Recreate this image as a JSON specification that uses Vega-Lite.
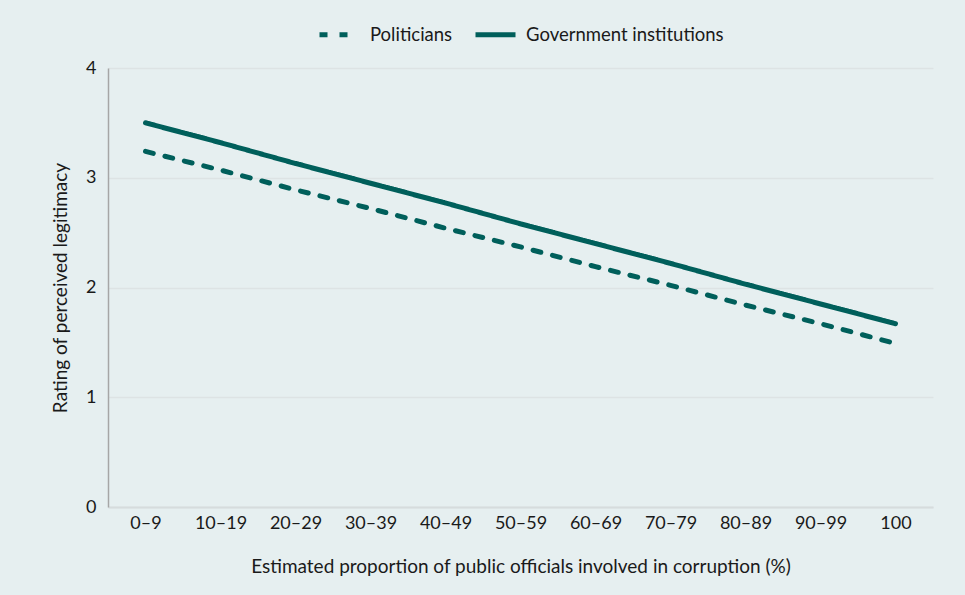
{
  "$schema": "https://vega.github.io/schema/vega-lite/v6.json",
  "width": 825,
  "height": 439,
  "autosize": {"type": "none"},
  "padding": {"left": 108, "top": 68, "right": 32, "bottom": 88},
  "background": "#e6eff0",
  "config": {
    "view": {"stroke": null},
    "font": "Lato",
    "axis": {"labelFont": "Lato", "titleFont": "Lato", "labelFontSize": 18, "titleFontSize": 19, "labelColor": "#1a1a1a", "titleColor": "#1a1a1a", "titleFontWeight": "normal", "ticks": false},
    "legend": {"labelFont": "Lato", "labelFontSize": 18.5, "labelColor": "#1a1a1a", "labelLimit": 400}
  },
  "data": {
    "values": [
      {"range": "0–9", "series": "Politicians", "value": 3.24},
      {"range": "10–19", "series": "Politicians", "value": 3.07},
      {"range": "20–29", "series": "Politicians", "value": 2.89},
      {"range": "30–39", "series": "Politicians", "value": 2.72},
      {"range": "40–49", "series": "Politicians", "value": 2.54},
      {"range": "50–59", "series": "Politicians", "value": 2.37},
      {"range": "60–69", "series": "Politicians", "value": 2.19},
      {"range": "70–79", "series": "Politicians", "value": 2.02},
      {"range": "80–89", "series": "Politicians", "value": 1.84},
      {"range": "90–99", "series": "Politicians", "value": 1.67},
      {"range": "100", "series": "Politicians", "value": 1.49},
      {"range": "0–9", "series": "Government institutions", "value": 3.50},
      {"range": "10–19", "series": "Government institutions", "value": 3.32},
      {"range": "20–29", "series": "Government institutions", "value": 3.13},
      {"range": "30–39", "series": "Government institutions", "value": 2.95},
      {"range": "40–49", "series": "Government institutions", "value": 2.77},
      {"range": "50–59", "series": "Government institutions", "value": 2.58},
      {"range": "60–69", "series": "Government institutions", "value": 2.40},
      {"range": "70–79", "series": "Government institutions", "value": 2.22},
      {"range": "80–89", "series": "Government institutions", "value": 2.03},
      {"range": "90–99", "series": "Government institutions", "value": 1.85},
      {"range": "100", "series": "Government institutions", "value": 1.67}
    ]
  },
  "mark": {"type": "line", "strokeWidth": 5, "strokeCap": "round", "color": "#005f5b"},
  "encoding": {
    "x": {
      "field": "range", "type": "ordinal", "sort": null,
      "scale": {"type": "point", "padding": 0.5},
      "axis": {"title": "Estimated proportion of public officials involved in corruption (%)", "labelAngle": 0, "labelPadding": 7, "titlePadding": 25, "domainColor": "#d6dcdd", "domainWidth": 2, "grid": false}
    },
    "y": {
      "field": "value", "type": "quantitative",
      "scale": {"domain": [0, 4]},
      "axis": {"title": "Rating of perceived legitimacy", "values": [0, 1, 2, 3, 4], "labelOverlap": false, "labelPadding": 12, "titlePadding": 15, "domainColor": "#a6a6a6", "domainWidth": 1.5, "gridColor": "#dde3e4", "gridWidth": 1.5}
    },
    "strokeDash": {
      "field": "series", "type": "nominal",
      "scale": {"domain": ["Politicians", "Government institutions"], "range": [[8, 12], [1, 0]]},
      "legend": {"title": null, "orient": "none", "legendX": 209, "legendY": -56, "direction": "horizontal", "symbolType": "stroke", "symbolSize": 1600, "symbolStrokeWidth": 5, "symbolStrokeColor": "#005f5b", "labelOffset": 8, "columnPadding": 12}
    }
  }
}
